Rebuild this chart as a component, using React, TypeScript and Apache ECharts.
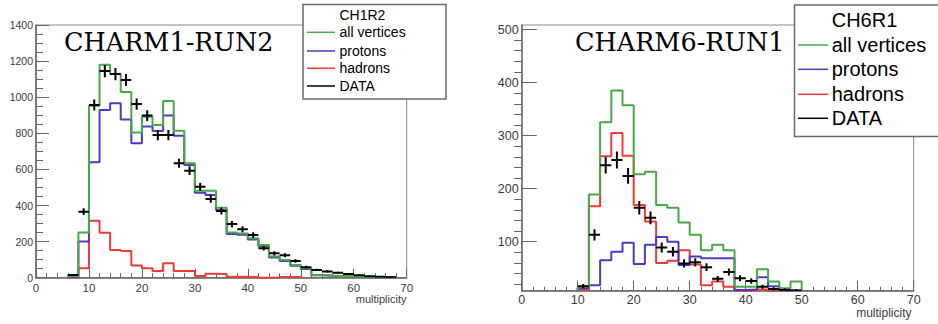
import React, { useEffect, useRef } from "react";
import * as echarts from "echarts";

// ---------- data ----------
const BIN = 2;

// CHARM1-RUN2 (left), bins of width 2 starting at 6
const c1Start = 6;
const c1All = [8, 251, 953, 1180, 1128, 1029, 805, 892, 846, 979, 814, 634, 482, 482, 388, 250, 245, 218, 181, 117, 98, 70, 52, 15, 12, 10, 10, 5, 3, 3, 1];
const c1Prot = [5, 200, 639, 929, 966, 877, 745, 837, 813, 898, 787, 624, 471, 458, 375, 242, 238, 212, 176, 112, 92, 66, 48, 14, 11, 9, 9, 4, 3, 2, 1];
const c1Had = [0, 52, 316, 249, 153, 148, 67, 52, 37, 80, 37, 37, 10, 22, 20, 5, 5, 4, 0, 0, 4, 4];
const c1DataFirst = 7;
const c1Data = [15, 366, 957, 1145, 1128, 1095, 962, 898, 790, 790, 634, 593, 504, 436, 370, 297, 268, 237, 163, 135, 124, 92, 58, 43, 35, 28, 20, 14, 8, 5, 3];

// CHARM6-RUN1 (right), bins of width 2 starting at 10
const c6Start = 10;
const c6All = [15, 189, 325, 385, 357, 227, 232, 169, 164, 136, 113, 84, 94, 84, 15, 15, 48, 25, 12, 25];
const c6Prot = [12, 18, 65, 81, 98, 58, 94, 109, 100, 56, 72, 69, 69, 69, 9, 10, 33, 16, 8, 8];
const c6Had = [10, 167, 261, 305, 262, 169, 138, 60, 64, 84, 57, 18, 25, 15, 6, 6, 10, 6, 3, 2];
const c6DataFirst = 11;
const c6Data = [16, 113, 244, 254, 224, 164, 145, 89, 81, 59, 61, 52, 30, 43, 31, 26, 15, 11, 9, 8];

const xTicks = [0, 10, 20, 30, 40, 50, 60, 70];
const c1YTicks = [0, 200, 400, 600, 800, 1000, 1200, 1400];
const c6YTicks = [100, 200, 300, 400, 500];
const c6YMinor = [20, 40, 60, 80, 120, 140, 160, 180, 220, 240, 260, 280, 320, 340, 360, 380, 420, 440, 460, 480];

const legendNames = ["all vertices", "protons", "hadrons", "DATA"];

// ---------- styles ----------
const GREEN = "#47a947";
const BLUE = "#4a3cc2";
const RED = "#f03a3a";
const BLACK = "#000000";
const AXIS = "#666666";
const LABEL = "#3a3a3a";
const SANS = "Liberation Sans, Arial, sans-serif";

const plain = (v: number) => String(v);

function stepPoints(start: number, values: number[]) {
  const pts: number[][] = [[start, 0]];
  values.forEach((v, i) => {
    const x0 = start + i * BIN;
    pts.push([x0, v]);
    pts.push([x0 + BIN, v]);
  });
  pts.push([start + values.length * BIN, 0]);
  return pts;
}

function dataPoints(first: number, values: number[]) {
  return values.map((v, i) => [first + i * BIN, v]);
}

function histSeries(name: string, g: number, start: number, values: number[], color: string) {
  return {
    name,
    type: "line",
    xAxisIndex: g,
    yAxisIndex: g,
    data: stepPoints(start, values),
    showSymbol: false,
    symbol: "none",
    clip: true,
    lineStyle: { color, width: 2 },
    z: 3,
  };
}

function errSeries(g: number, first: number, values: number[]) {
  return {
    name: "DATA",
    type: "custom",
    xAxisIndex: g,
    yAxisIndex: g,
    clip: true,
    z: 5,
    data: dataPoints(first, values),
    renderItem: (params: any, api: any) => {
      const x = api.value(0);
      const y = api.value(1);
      const e = Math.sqrt(y);
      const l = api.coord([x - BIN / 2, y]);
      const r = api.coord([x + BIN / 2, y]);
      const t = api.coord([x, y + e]);
      const b = api.coord([x, y - e]);
      const style = { stroke: BLACK, lineWidth: 2 };
      return {
        type: "group",
        children: [
          { type: "line", shape: { x1: l[0], y1: l[1], x2: r[0], y2: r[1] }, style },
          { type: "line", shape: { x1: t[0], y1: t[1], x2: b[0], y2: b[1] }, style },
        ],
      };
    },
  };
}

function legendGraphic(
  bx: number, by: number, bw: number, bh: number,
  title: string, titleY: number, rows: number[], lx0: number, lx1: number, tx: number, fs: number
) {
  const colors = [GREEN, BLUE, RED, BLACK];
  const children: any[] = [
    { type: "rect", shape: { x: bx, y: by, width: bw, height: bh }, style: { fill: "#fff", stroke: "#6a6a6a", lineWidth: 1.5 } },
    { type: "text", x: tx, y: titleY, style: { text: title, font: `${fs}px ${SANS}`, fill: "#000", textAlign: "left", textVerticalAlign: "middle" } },
  ];
  legendNames.forEach((n, i) => {
    children.push({ type: "line", shape: { x1: lx0, y1: rows[i], x2: lx1, y2: rows[i] }, style: { stroke: colors[i], lineWidth: 1.5 } });
    children.push({ type: "text", x: tx, y: rows[i], style: { text: n, font: `${fs}px ${SANS}`, fill: "#000", textAlign: "left", textVerticalAlign: "middle" } });
  });
  return { type: "group", z: 100, children };
}

export default function App() {
  const ref = useRef<HTMLDivElement>(null);

  useEffect(() => {
    if (!ref.current) return;
    const chart = echarts.init(ref.current, undefined, { renderer: "svg" });

    const xAxisBase = (g: number, tickLen: number, minorLen: number, fs: number, margin: number) => ({
      type: "value",
      gridIndex: g,
      min: 0,
      max: 70,
      interval: 10,
      axisLine: { show: true, onZero: false, lineStyle: { color: AXIS, width: 1.5 } },
      axisTick: { show: true, inside: true, length: tickLen, lineStyle: { color: AXIS, width: 1 } },
      minorTick: { show: true, splitNumber: 5, length: minorLen, lineStyle: { color: AXIS, width: 1 } },
      axisLabel: { show: true, fontSize: fs, color: LABEL, margin, fontFamily: SANS, customValues: xTicks, formatter: plain },
      splitLine: { show: false },
      minorSplitLine: { show: false },
    });

    const option: any = {
      animation: false,
      backgroundColor: "#ffffff",
      grid: [
        { left: 36, top: 25, width: 370.7, height: 252.7, show: true, borderColor: "#888", borderWidth: 1, backgroundColor: "transparent" },
        { left: 521.7, top: 25, width: 392, height: 265.7, show: true, borderColor: "#888", borderWidth: 1, backgroundColor: "transparent" },
      ],
      xAxis: [xAxisBase(0, 9, 4.5, 11.5, 4), xAxisBase(1, 10, 4, 12.5, 3)],
      yAxis: [
        {
          type: "value",
          gridIndex: 0,
          min: 0,
          max: 1400,
          interval: 200,
          axisLine: { show: true, onZero: false, lineStyle: { color: AXIS, width: 1.5 } },
          axisTick: { show: true, inside: true, length: 13, lineStyle: { color: AXIS, width: 1 } },
          minorTick: { show: true, splitNumber: 4, length: 7, lineStyle: { color: AXIS, width: 1 } },
          axisLabel: { fontSize: 10.5, color: LABEL, margin: 3, fontFamily: SANS, customValues: c1YTicks, formatter: plain },
          splitLine: { show: false },
          minorSplitLine: { show: false },
        },
        {
          type: "value",
          gridIndex: 1,
          min: 7.6,
          max: 508.5,
          axisLine: { show: true, onZero: false, lineStyle: { color: AXIS, width: 1.5 } },
          axisTick: { show: true, inside: true, length: 15, lineStyle: { color: AXIS, width: 1 }, customValues: c6YTicks },
          axisLabel: { fontSize: 12.5, color: LABEL, margin: 3, fontFamily: SANS, customValues: c6YTicks, formatter: plain },
          splitLine: { show: false },
        },
        {
          type: "value",
          gridIndex: 1,
          min: 7.6,
          max: 508.5,
          axisLine: { show: false },
          axisTick: { show: true, inside: true, length: 7.5, lineStyle: { color: AXIS, width: 1 }, customValues: c6YMinor },
          axisLabel: { show: false },
          splitLine: { show: false },
        },
      ],
      series: [
        histSeries("hadrons", 0, c1Start, c1Had, RED),
        histSeries("protons", 0, c1Start, c1Prot, BLUE),
        histSeries("all vertices", 0, c1Start, c1All, GREEN),
        errSeries(0, c1DataFirst, c1Data),
        histSeries("hadrons", 1, c6Start, c6Had, RED),
        histSeries("protons", 1, c6Start, c6Prot, BLUE),
        histSeries("all vertices", 1, c6Start, c6All, GREEN),
        errSeries(1, c6DataFirst, c6Data),
      ],
      graphic: [
        { type: "text", z: 50, x: 64, y: 42, style: { text: "CHARM1-RUN2", font: "25.5px DejaVu Serif, serif", fill: "#000", textAlign: "left", textVerticalAlign: "middle" } },
        { type: "text", z: 50, x: 575, y: 42, style: { text: "CHARM6-RUN1", font: "25.5px DejaVu Serif, serif", fill: "#000", textAlign: "left", textVerticalAlign: "middle" } },
        { type: "text", z: 50, x: 406.5, y: 299, style: { text: "multiplicity", font: `11px ${SANS}`, fill: LABEL, textAlign: "right", textVerticalAlign: "middle" } },
        { type: "text", z: 50, x: 911.5, y: 312.5, style: { text: "multiplicity", font: `12px ${SANS}`, fill: LABEL, textAlign: "right", textVerticalAlign: "middle" } },
        legendGraphic(303, 4.5, 143, 94.5, "CH1R2", 14.7, [32.3, 51, 68.3, 86], 307, 335, 339.5, 14),
        legendGraphic(794.5, 5, 160, 131.5, "CH6R1", 20, [45, 69.3, 94.3, 118.3], 798, 828, 831.7, 20),
      ],
    };

    chart.setOption(option);
    return () => chart.dispose();
  }, []);

  return (
    <div
      ref={ref}
      style={{ position: "fixed", left: 0, top: 0, width: 938, height: 324, background: "#fff" }}
    />
  );
}
